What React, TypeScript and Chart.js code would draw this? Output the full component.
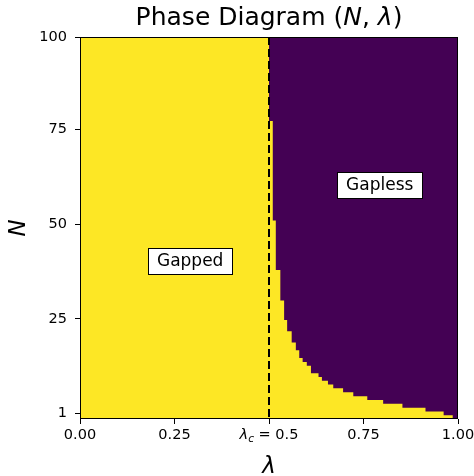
import React, { useEffect, useRef } from 'react';
import { Chart, registerables } from 'chart.js';

Chart.register(...registerables);

// ---- data ----
const LAMBDA_MIN = 0;
const LAMBDA_MAX = 1;
const N_MIN = -1.5;
const N_MAX = 99.5;
const LAMBDA_C = 0.5;

const lambdaTicks = [0, 0.25, 0.5, 0.75, 1.0];
const lambdaTickLabels = ['0.00', '0.25', '', '0.75', '1.00'];
const nTickValues = [0, 25, 50, 75, 99.5];
const nTickLabels = ['1', '25', '50', '75', '100'];

// phase boundary: for lambda >= boundaryLambda[i] the gapless (purple) region starts above boundaryN[i]
const boundaryLambda = [0.5, 0.51, 0.518, 0.53, 0.54, 0.548, 0.56, 0.571, 0.58, 0.589, 0.6, 0.611, 0.631, 0.64, 0.656, 0.67, 0.696, 0.723, 0.76, 0.802, 0.853, 0.914, 0.962, 0.986];
const boundaryN = [77.3, 51.0, 37.9, 29.8, 24.7, 21.7, 18.7, 16.7, 14.6, 13.6, 12.6, 10.6, 9.6, 8.6, 7.6, 6.6, 5.55, 4.5, 3.5, 2.5, 1.5, 0.5, -0.5, -1.5];

const phaseLabels = ['Gapped', 'Gapless'];
const phaseLabelLambda = [0.2915, 0.793];
const phaseLabelN = [40.3, 60.4];

const YELLOW = '#fde725';
const PURPLE = '#440154';
const FONT = '"DejaVu Sans", sans-serif';

const W = 474;
const H = 476;

const decorPlugin = {
  id: 'decor',
  afterDraw(chart: any) {
    const ctx: CanvasRenderingContext2D = chart.ctx;
    const { left, right, top, bottom } = chart.chartArea;
    const xs = chart.scales.x;
    const ys = chart.scales.y;
    ctx.save();
    // frame
    ctx.strokeStyle = '#000';
    ctx.lineWidth = 1;
    ctx.strokeRect(left + 0.5, top + 0.5, right - left - 1, bottom - top - 1);

    // phase labels with boxes
    ctx.font = `17px ${FONT}`;
    ctx.textAlign = 'center';
    ctx.textBaseline = 'middle';
    phaseLabels.forEach((t, i) => {
      const cx = xs.getPixelForValue(phaseLabelLambda[i]);
      const cy = ys.getPixelForValue(phaseLabelN[i]);
      const w = ctx.measureText(t).width + 18;
      const h = 26;
      ctx.fillStyle = '#fff';
      ctx.fillRect(Math.round(cx - w / 2) + 0.5, Math.round(cy - h / 2) + 0.5, Math.round(w), h);
      ctx.strokeStyle = '#000';
      ctx.strokeRect(Math.round(cx - w / 2) + 0.5, Math.round(cy - h / 2) + 0.5, Math.round(w), h);
      ctx.fillStyle = '#000';
      ctx.fillText(t, cx, cy + 1);
    });

    // lambda_c tick label
    const tx = xs.getPixelForValue(LAMBDA_C);
    const base = 439;
    const parts: [string, string, number][] = [
      ['λ', `italic 14.5px ${FONT}`, 0],
      ['c', `italic 10.5px ${FONT}`, 3],
      [' = ', `14.5px ${FONT}`, 0],
      ['0.5', `14.5px ${FONT}`, 0],
    ];
    let total = 0;
    const widths = parts.map(([s, f]) => {
      ctx.font = f;
      const wv = ctx.measureText(s).width;
      total += wv;
      return wv;
    });
    let px = tx - total / 2;
    ctx.textAlign = 'left';
    ctx.textBaseline = 'alphabetic';
    ctx.fillStyle = '#000';
    parts.forEach(([s, f, dy], i) => {
      ctx.font = f;
      ctx.fillText(s, px, base + dy);
      px += widths[i];
    });

    // title
    const tparts: [string, string][] = [
      ['Phase Diagram (', `25px ${FONT}`],
      ['N', `italic 25px ${FONT}`],
      [', ', `25px ${FONT}`],
      ['λ', `italic 25px ${FONT}`],
      [')', `25px ${FONT}`],
    ];
    let tt = 0;
    const tw = tparts.map(([s, f]) => {
      ctx.font = f;
      const wv = ctx.measureText(s).width;
      tt += wv;
      return wv;
    });
    let qx = (left + right) / 2 - tt / 2;
    tparts.forEach(([s, f], i) => {
      ctx.font = f;
      ctx.fillText(s, qx, 25);
      qx += tw[i];
    });

    // axis labels
    ctx.textAlign = 'center';
    ctx.font = `italic 23px ${FONT}`;
    ctx.fillText('λ', (left + right) / 2, 473);
    ctx.save();
    ctx.translate(25, (top + bottom) / 2);
    ctx.rotate(-Math.PI / 2);
    ctx.fillText('N', 0, 0);
    ctx.restore();
    ctx.restore();
  },
};

export default function App() {
  const ref = useRef<HTMLCanvasElement>(null);
  useEffect(() => {
    document.body.style.margin = '0';
    const purplePts: { x: number; y: number }[] = [];
    for (let i = 0; i < boundaryLambda.length; i++) {
      const x0 = boundaryLambda[i];
      const x1 = i + 1 < boundaryLambda.length ? boundaryLambda[i + 1] : LAMBDA_MAX;
      purplePts.push({ x: x0, y: boundaryN[i] }, { x: x1, y: boundaryN[i] });
    }
    const yellowPts = [
      { x: LAMBDA_MIN, y: N_MAX },
      { x: LAMBDA_MAX, y: N_MAX },
    ];
    const critPts = [
      { x: LAMBDA_C, y: N_MAX },
      { x: LAMBDA_C, y: N_MIN },
    ];
    const chart = new Chart(ref.current as HTMLCanvasElement, {
      type: 'line',
      data: {
        datasets: [
          {
            label: 'lambda_c',
            data: critPts,
            borderColor: '#000',
            borderWidth: 2,
            borderDash: [8, 4],
            pointRadius: 0,
            fill: false,
            order: 0,
          },
          {
            label: 'Gapless',
            data: purplePts,
            borderColor: 'rgba(0,0,0,0)',
            borderWidth: 0,
            backgroundColor: PURPLE,
            pointRadius: 0,
            fill: 'end',
            order: 1,
          },
          {
            label: 'Gapped',
            data: yellowPts,
            borderColor: 'rgba(0,0,0,0)',
            borderWidth: 0,
            backgroundColor: YELLOW,
            pointRadius: 0,
            fill: 'start',
            order: 2,
          },
        ] as any,
      },
      options: {
        animation: false,
        responsive: false,
        maintainAspectRatio: false,
        devicePixelRatio: 1,
        layout: { padding: { top: 37, left: 0, right: 16, bottom: 0 } },
        plugins: {
          legend: { display: false },
          tooltip: { enabled: false },
          title: { display: false },
        },
        elements: { line: { tension: 0 } },
        scales: {
          x: {
            type: 'linear',
            min: LAMBDA_MIN,
            max: LAMBDA_MAX,
            afterBuildTicks: (s: any) => {
              s.ticks = lambdaTicks.map((v) => ({ value: v }));
            },
            afterFit: (s: any) => {
              s.height = 57;
              s.paddingLeft = 0;
              s.paddingRight = 0;
            },
            ticks: {
              color: '#000',
              font: { family: FONT, size: 14.5 },
              padding: 3,
              maxRotation: 0,
              autoSkip: false,
              callback: (v: any) => {
                const i = lambdaTicks.indexOf(Number(v));
                return i >= 0 ? lambdaTickLabels[i] : '';
              },
            },
            grid: { drawOnChartArea: false, drawTicks: true, tickLength: 5, color: '#000', tickColor: '#000' },
            border: { display: false },
          },
          y: {
            type: 'linear',
            min: N_MIN,
            max: N_MAX,
            afterBuildTicks: (s: any) => {
              s.ticks = nTickValues.map((v) => ({ value: v }));
            },
            afterFit: (s: any) => {
              s.width = 80;
              s.paddingTop = 0;
              s.paddingBottom = 0;
            },
            ticks: {
              color: '#000',
              font: { family: FONT, size: 14.5 },
              padding: 8,
              autoSkip: false,
              callback: (v: any) => {
                const i = nTickValues.indexOf(Number(v));
                return i >= 0 ? nTickLabels[i] : '';
              },
            },
            grid: { drawOnChartArea: false, drawTicks: true, tickLength: 5, color: '#000', tickColor: '#000' },
            border: { display: false },
          },
        },
      },
      plugins: [decorPlugin],
    });
    return () => chart.destroy();
  }, []);
  return (
    <div style={{ position: 'fixed', left: 0, top: 0, width: W, height: H }}>
      <canvas ref={ref} width={W} height={H} style={{ width: W, height: H, display: 'block' }} />
    </div>
  );
}
